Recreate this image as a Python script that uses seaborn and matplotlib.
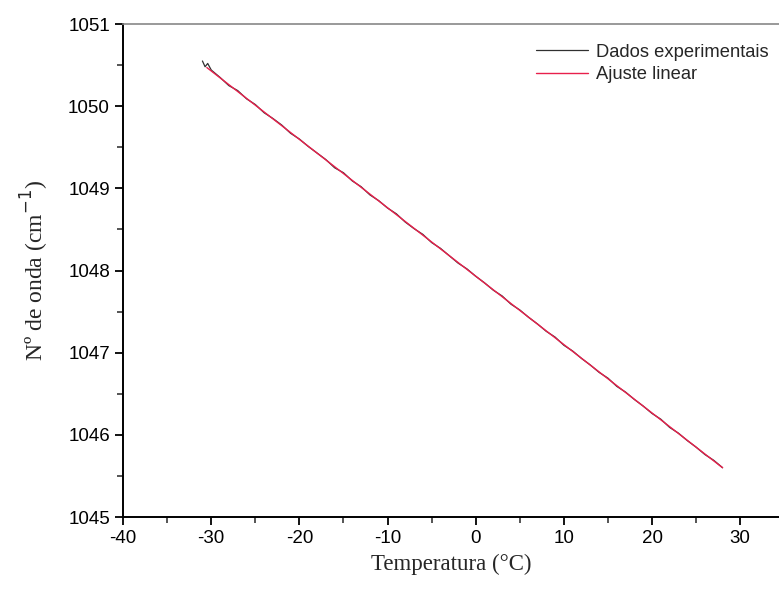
import matplotlib
matplotlib.use("Agg")
import matplotlib.pyplot as plt
import seaborn as sns
import pandas as pd
from matplotlib.ticker import MultipleLocator

temperatura = [-31.0, -30.7, -30.4, -30.0, -29, -28, -27, -26, -25, -24, -23, -22, -21, -20,
               -19, -18, -17, -16, -15, -14, -13, -12, -11, -10, -9, -8, -7, -6, -5, -4,
               -3, -2, -1, 0, 1, 2, 3, 4, 5, 6, 7, 8, 9, 10, 11, 12, 13, 14, 15, 16, 17,
               18, 19, 20, 21, 22, 23, 24, 25, 26, 27, 28]
numero_onda = [1050.55, 1050.48, 1050.52, 1050.44, 1050.35, 1050.25, 1050.19, 1050.09, 1050.02,
               1049.92, 1049.85, 1049.77, 1049.67, 1049.60, 1049.51, 1049.43, 1049.35, 1049.25,
               1049.19, 1049.09, 1049.02, 1048.92, 1048.85, 1048.76, 1048.69, 1048.59, 1048.51,
               1048.44, 1048.34, 1048.27, 1048.18, 1048.09, 1048.02, 1047.93, 1047.85, 1047.76,
               1047.69, 1047.59, 1047.52, 1047.43, 1047.35, 1047.26, 1047.19, 1047.09, 1047.02,
               1046.93, 1046.85, 1046.76, 1046.69, 1046.59, 1046.52, 1046.43, 1046.35, 1046.26,
               1046.19, 1046.09, 1046.02, 1045.93, 1045.85, 1045.76, 1045.69, 1045.60]
ajuste_x = [-30.5, 28.0]
ajuste_y = [1050.47, 1045.60]

xticks = [-40, -30, -20, -10, 0, 10, 20, 30]
yticks = [1045, 1046, 1047, 1048, 1049, 1050, 1051]

sns.set_style("ticks")
plt.rcParams['font.family'] = ['Liberation Sans', 'DejaVu Sans']
plt.rcParams['axes.unicode_minus'] = False

fig = plt.figure(figsize=(7.79, 5.90), dpi=100)
ax = fig.add_axes([0.158, 0.1237, 0.842, 0.8356])

df_exp = pd.DataFrame({"T": temperatura, "v": numero_onda})
df_fit = pd.DataFrame({"T": ajuste_x, "v": ajuste_y})
sns.lineplot(data=df_exp, x="T", y="v", ax=ax, color="#303030", lw=0.9,
             label="Dados experimentais", sort=False)
sns.lineplot(data=df_fit, x="T", y="v", ax=ax, color="#e8204c", lw=1.0,
             label="Ajuste linear")

ax.set_xlim(-40, 34.4)
ax.set_ylim(1045, 1051)
ax.set_xticks(xticks)
ax.set_yticks(yticks)
ax.xaxis.set_minor_locator(MultipleLocator(5))
ax.yaxis.set_minor_locator(MultipleLocator(0.5))
ax.tick_params(axis='both', which='major', length=6, width=1.3, direction='out',
               labelsize=13.5, colors='black')
ax.tick_params(axis='both', which='minor', length=4, width=1.1, direction='out')

for s in ['left', 'bottom']:
    ax.spines[s].set_color('black')
    ax.spines[s].set_linewidth(1.4)
ax.spines['top'].set_color('#888888')
ax.spines['top'].set_linewidth(1.2)
ax.spines['right'].set_visible(False)

ax.set_xlabel("Temperatura (°C)", family=['Liberation Serif'], fontsize=16.5, labelpad=5)
ax.set_ylabel("Nº de onda (cm$^{-1}$)", family=['Liberation Serif'], fontsize=17, labelpad=12)

leg = ax.legend(loc='upper right', frameon=False, fontsize=13.2, handlelength=2.8,
                handletextpad=0.45, borderaxespad=0.0, labelspacing=0.3,
                bbox_to_anchor=(0.995, 0.975))

fig.savefig("out.png", dpi=100)
